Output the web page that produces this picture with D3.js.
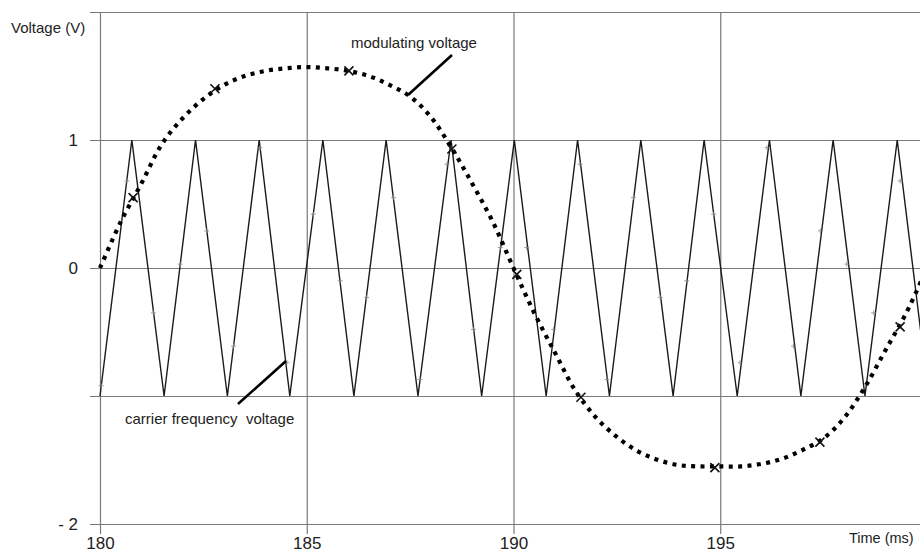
<!DOCTYPE html>
<html>
<head>
<meta charset="utf-8">
<script src="https://cdn.jsdelivr.net/npm/d3@7"></script>
<style>
  html, body { margin:0; padding:0; background:#fff; overflow:hidden; }
  svg { display:block; font-family:"Liberation Sans", Arial, sans-serif; }
</style>
</head>
<body>
<svg id="chart" width="920" height="554"></svg>
<script>

// chart data
// --------------------------------
var xTicks = [180, 185, 190, 195];
var yTicks = [2, 1, 0, -1, -2];
var yTickLabels = ["", "1", "0", "", "- 2"];

// carrier frequency voltage: triangle vertices (ms, V)
var carrierT = [180, 180.77, 181.55, 182.31, 183.08, 183.85, 184.59, 185.39, 186.14, 186.92,
                187.69, 188.49, 189.23, 190.02, 190.79, 191.55, 192.32, 193.08, 193.86, 194.61,
                195.41, 196.19, 196.95, 197.73, 198.50, 199.28, 200.04];
var carrierV = [-1, 1, -1, 1, -1, 1, -1, 1, -1, 1,
                -1, 1, -1, 1, -1, 1, -1, 1, -1, 1,
                -1, 1, -1, 1, -1, 1, -1];

// small sample marks on the carrier
var carrierMarkT = [180.03, 180.65, 181.29, 181.94, 182.58, 183.23, 183.87, 184.52, 185.16, 185.81,
                    186.45, 187.10, 187.74, 188.39, 189.03, 189.68, 190.32, 190.97, 191.61, 192.26,
                    192.90, 193.55, 194.19, 194.84, 195.48, 196.13, 196.77, 197.42, 198.06, 198.71, 199.35];
var carrierMarkV = [-0.92, 0.68, -0.35, 0.03, 0.29, -0.61, 0.94, -0.74, 0.42, -0.10,
                    -0.23, 0.55, -0.87, 0.81, -0.48, 0.16, 0.16, -0.48, 0.81, -0.87,
                    0.55, -0.23, -0.10, 0.42, -0.74, 0.94, -0.61, 0.29, 0.03, -0.35, 0.68];

// modulating voltage (ms, V)
var modT = [180, 180.5, 181, 181.5, 182, 182.5, 183, 183.5, 184, 184.5,
            185, 185.5, 186, 186.5, 187, 187.5, 188, 188.5, 189, 189.5,
            190, 190.5, 191, 191.5, 192, 192.5, 193, 193.5, 194, 194.5,
            195, 195.5, 196, 196.5, 197, 197.5, 198, 198.5, 199, 199.5, 200];
var modV = [0, 0.36, 0.66, 0.97, 1.17, 1.32, 1.43, 1.50, 1.54, 1.56,
            1.57, 1.56, 1.54, 1.50, 1.43, 1.34, 1.18, 0.94, 0.66, 0.36,
            0, -0.35, -0.66, -0.96, -1.17, -1.32, -1.43, -1.50, -1.54, -1.55,
            -1.55, -1.55, -1.53, -1.49, -1.42, -1.33, -1.17, -0.93, -0.64, -0.35, 0];

// "x" marks on the modulating voltage
var modMarkT = [180.8, 182.78, 186.02, 188.51, 190.08, 191.63, 194.87, 197.41, 199.35];
var modMarkV = [0.55, 1.40, 1.54, 0.93, -0.05, -1.01, -1.56, -1.36, -0.46];

// layout
// --------------------------------
var plotLeft = 100, plotRight = 927, plotTop = 12, plotBottom = 524;
var svg = d3.select("#chart");

var x = d3.scaleLinear().domain([180, 200]).range([plotLeft, plotRight]);
var y = d3.scaleLinear().domain([-2, 2]).range([plotBottom, plotTop]);

// grid + tick labels
// --------------------------------
svg.append("g")
	.attr("transform", "translate(" + (plotLeft - 10) + ",0)")
	.call(d3.axisLeft(y)
		.tickValues(yTicks)
		.tickSize(-(plotRight - plotLeft + 10))
		.tickPadding(12)
		.tickFormat(function(d, i){ return yTickLabels[i]; }));

svg.append("g")
	.attr("transform", "translate(0," + (plotBottom + 10) + ")")
	.call(d3.axisBottom(x)
		.tickValues(xTicks)
		.tickSize(-(plotBottom - plotTop + 10))
		.tickPadding(3)
		.tickFormat(d3.format("d")));

svg.selectAll(".domain").remove();
svg.selectAll(".tick line")
	.attr("stroke", "#7a7a7a")
	.attr("stroke-width", 1.2);
svg.selectAll(".tick text")
	.attr("fill", "#222")
	.style("font-size", "17px")
	.style("font-family", "'Liberation Sans', Arial, sans-serif");

// carrier frequency voltage
// --------------------------------
var carrier = carrierT.map(function(t, i){ return [t, carrierV[i]]; });

svg.append("path")
	.datum(carrier)
	.attr("d", d3.line().x(function(d){ return x(d[0]); }).y(function(d){ return y(d[1]); }))
	.attr("style", "fill:none;stroke:#1a1a1a;stroke-width:1.4;stroke-linejoin:miter;");

svg.selectAll("path.cmark")
	.data(carrierMarkT)
	.enter().append("path")
	.attr("class", "cmark")
	.attr("d", function(t, i){
		var cx = x(t), cy = y(carrierMarkV[i]);
		return "M" + (cx - 2.5) + "," + cy + "H" + (cx + 2.5) + "M" + cx + "," + (cy - 2.5) + "V" + (cy + 2.5);
	})
	.attr("style", "fill:none;stroke:#8a8a8a;stroke-width:0.8;");

// modulating voltage (dotted)
// --------------------------------
var mod = modT.map(function(t, i){ return [t, modV[i]]; });

svg.append("path")
	.datum(mod)
	.attr("d", d3.line().curve(d3.curveCatmullRom).x(function(d){ return x(d[0]); }).y(function(d){ return y(d[1]); }))
	.attr("style", "fill:none;stroke:#000;stroke-width:4.2;stroke-dasharray:4,5.4;stroke-linecap:butt;");

svg.selectAll("path.mmark")
	.data(modMarkT)
	.enter().append("path")
	.attr("class", "mmark")
	.attr("d", function(t, i){
		var cx = x(t), cy = y(modMarkV[i]), s = 4.5;
		return "M" + (cx - s) + "," + (cy - s) + "L" + (cx + s) + "," + (cy + s) +
		       "M" + (cx - s) + "," + (cy + s) + "L" + (cx + s) + "," + (cy - s);
	})
	.attr("style", "fill:none;stroke:#111;stroke-width:1.6;");

// annotations
// --------------------------------
svg.append("line")
	.attr("x1", 452).attr("y1", 55).attr("x2", 408).attr("y2", 95)
	.attr("style", "stroke:#000;stroke-width:2.6;");
svg.append("line")
	.attr("x1", 238).attr("y1", 404).attr("x2", 286).attr("y2", 361)
	.attr("style", "stroke:#000;stroke-width:2.6;");

var txtStyle = "font-size:15px;fill:#222;";
svg.append("text").attr("x", 11).attr("y", 33).attr("style", txtStyle).text("Voltage (V)");
svg.append("text").attr("x", 351).attr("y", 48).attr("style", txtStyle).text("modulating voltage");
svg.append("text").attr("x", 125).attr("y", 424).attr("style", txtStyle + "white-space:pre;")
	.text("carrier frequency  voltage");
svg.append("text").attr("x", 849).attr("y", 543).attr("style", "font-size:14.5px;fill:#222;").text("Time (ms)");

</script>
</body>
</html>
